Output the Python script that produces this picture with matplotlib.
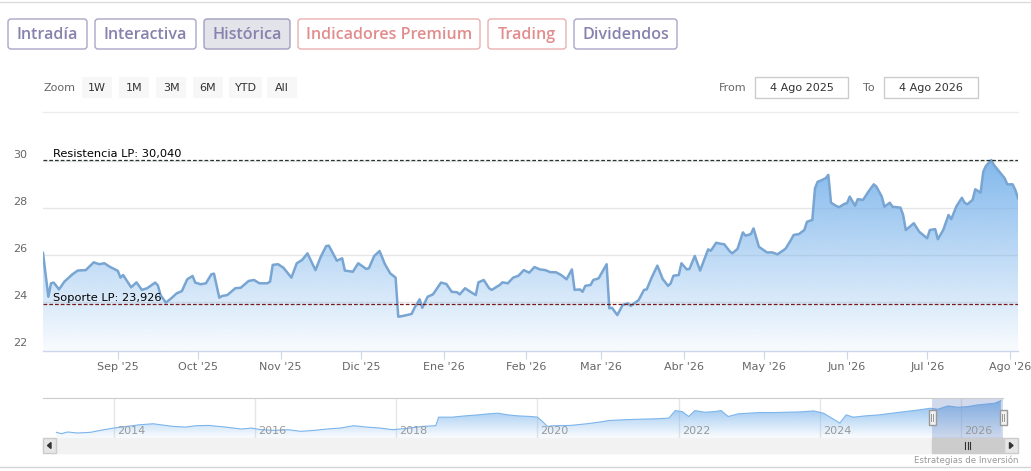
import matplotlib
matplotlib.use('Agg')
import matplotlib.pyplot as plt
import matplotlib.dates as mdates
from matplotlib.patches import FancyBboxPatch, Rectangle, Polygon
import numpy as np
import pandas as pd

# ---------------- data ----------------
dates = [
    '2025-08-04', '2025-08-06', '2025-08-07', '2025-08-08', '2025-08-10', '2025-08-12', '2025-08-15',
    '2025-08-17', '2025-08-20', '2025-08-23', '2025-08-25', '2025-08-27', '2025-08-29', '2025-09-01',
    '2025-09-02', '2025-09-03', '2025-09-06', '2025-09-08', '2025-09-10', '2025-09-12', '2025-09-15',
    '2025-09-16', '2025-09-17', '2025-09-19', '2025-09-21', '2025-09-23', '2025-09-25', '2025-09-27',
    '2025-09-29', '2025-09-30', '2025-10-02', '2025-10-04', '2025-10-06', '2025-10-07', '2025-10-09',
    '2025-10-10', '2025-10-12', '2025-10-15', '2025-10-17', '2025-10-20', '2025-10-22', '2025-10-24',
    '2025-10-27', '2025-10-28', '2025-10-29', '2025-10-31', '2025-11-02', '2025-11-05', '2025-11-07',
    '2025-11-09', '2025-11-11', '2025-11-14', '2025-11-16', '2025-11-18', '2025-11-19', '2025-11-22',
    '2025-11-24', '2025-11-25', '2025-11-28', '2025-11-30', '2025-12-03', '2025-12-04', '2025-12-06',
    '2025-12-08', '2025-12-10', '2025-12-12', '2025-12-14', '2025-12-15', '2025-12-17', '2025-12-20',
    '2025-12-21', '2025-12-23', '2025-12-24', '2025-12-26', '2025-12-28', '2025-12-31', '2026-01-02',
    '2026-01-04', '2026-01-06', '2026-01-07', '2026-01-09', '2026-01-11', '2026-01-13', '2026-01-14',
    '2026-01-16', '2026-01-18', '2026-01-19', '2026-01-22', '2026-01-23', '2026-01-25', '2026-01-27',
    '2026-01-29', '2026-01-31', '2026-02-02', '2026-02-04', '2026-02-06', '2026-02-08', '2026-02-10',
    '2026-02-12', '2026-02-14', '2026-02-16', '2026-02-18', '2026-02-19', '2026-02-21', '2026-02-22',
    '2026-02-23', '2026-02-25', '2026-02-26', '2026-02-28', '2026-03-03', '2026-03-04', '2026-03-05',
    '2026-03-07', '2026-03-09', '2026-03-11', '2026-03-12', '2026-03-15', '2026-03-17', '2026-03-18',
    '2026-03-20', '2026-03-22', '2026-03-24', '2026-03-26', '2026-03-27', '2026-03-28', '2026-03-30',
    '2026-03-31', '2026-04-02', '2026-04-03', '2026-04-05', '2026-04-07', '2026-04-10', '2026-04-11',
    '2026-04-13', '2026-04-15', '2026-04-16', '2026-04-18', '2026-04-19', '2026-04-21', '2026-04-23',
    '2026-04-24', '2026-04-26', '2026-04-27', '2026-04-29', '2026-05-02', '2026-05-04', '2026-05-06',
    '2026-05-07', '2026-05-09', '2026-05-11', '2026-05-12', '2026-05-14', '2026-05-16', '2026-05-17',
    '2026-05-19', '2026-05-20', '2026-05-21', '2026-05-22', '2026-05-24', '2026-05-25', '2026-05-26',
    '2026-05-28', '2026-05-29', '2026-05-31', '2026-06-01', '2026-06-02', '2026-06-04', '2026-06-05',
    '2026-06-07', '2026-06-09', '2026-06-11', '2026-06-12', '2026-06-14', '2026-06-15', '2026-06-17',
    '2026-06-18', '2026-06-21', '2026-06-22', '2026-06-23', '2026-06-26', '2026-06-28', '2026-07-01',
    '2026-07-02', '2026-07-04', '2026-07-05', '2026-07-07', '2026-07-09', '2026-07-10', '2026-07-12',
    '2026-07-14', '2026-07-15', '2026-07-16', '2026-07-18', '2026-07-19', '2026-07-21', '2026-07-22',
    '2026-07-23', '2026-07-25', '2026-07-26', '2026-07-28', '2026-07-30', '2026-07-31', '2026-08-02',
    '2026-08-03', '2026-08-04',
]
prices = [
    26.10, 24.24, 24.81, 24.84, 24.55, 24.88, 25.19,
    25.35, 25.37, 25.70, 25.62, 25.66, 25.51, 25.34,
    25.05, 25.16, 24.64, 24.85, 24.53, 24.60, 24.84,
    24.72, 24.31, 23.99, 24.17, 24.38, 24.48, 24.98,
    25.12, 24.84, 24.77, 24.81, 25.19, 25.22, 24.20,
    24.27, 24.31, 24.60, 24.62, 24.91, 24.95, 24.81,
    24.81, 24.88, 25.59, 25.62, 25.47, 25.05, 25.66,
    25.80, 26.08, 25.37, 25.94, 26.39, 26.41, 25.77,
    25.87, 25.35, 25.30, 25.66, 25.42, 25.45, 25.97,
    26.18, 25.62, 25.23, 25.05, 23.39, 23.43, 23.51,
    23.75, 24.13, 23.77, 24.24, 24.34, 24.84, 24.78,
    24.45, 24.43, 24.34, 24.60, 24.45, 24.31, 24.85,
    24.95, 24.60, 24.53, 24.74, 24.85, 24.81, 25.05,
    25.13, 25.37, 25.26, 25.50, 25.40, 25.37, 25.28,
    25.28, 25.16, 24.98, 25.40, 24.53, 24.55, 24.45,
    24.70, 24.74, 24.95, 25.02, 25.62, 23.75, 23.77,
    23.46, 23.89, 23.96, 23.85, 24.10, 24.53, 24.55,
    25.09, 25.56, 24.99, 24.70, 24.81, 25.13, 25.16,
    25.66, 25.40, 25.42, 25.97, 25.35, 26.25, 26.19,
    26.53, 26.48, 26.47, 26.18, 26.08, 26.27, 26.97,
    26.83, 26.90, 27.14, 26.36, 26.12, 26.12, 26.04,
    26.12, 26.28, 26.65, 26.86, 26.90, 27.07, 27.42,
    27.50, 28.84, 29.12, 29.16, 29.27, 29.41, 28.23,
    28.09, 28.04, 28.18, 28.21, 28.49, 28.10, 28.38,
    28.35, 28.70, 29.01, 28.91, 28.49, 28.06, 28.23,
    28.06, 28.02, 27.71, 27.07, 27.36, 27.00, 26.72,
    27.07, 27.11, 26.68, 27.07, 27.71, 27.53, 28.09,
    28.44, 28.23, 28.16, 28.35, 28.80, 28.66, 29.55,
    29.79, 30.04, 29.83, 29.55, 29.27, 29.01, 29.01,
    28.77, 28.42,
]

resistance = 30.040
support = 23.926
resistance_label = 'Resistencia LP: 30,040'
support_label = 'Soporte LP: 23,926'

y_ticks = [22, 24, 26, 28, 30]
month_ticks = ['2025-09-01', '2025-10-01', '2025-11-01', '2025-12-01', '2026-01-01', '2026-02-01',
               '2026-03-01', '2026-04-01', '2026-05-01', '2026-06-01', '2026-07-01', '2026-08-01']
month_labels = ["Sep '25", "Oct '25", "Nov '25", "Dic '25", "Ene '26", "Feb '26",
                "Mar '26", "Abr '26", "May '26", "Jun '26", "Jul '26", "Ago '26"]
range_start = '2025-08-04'
range_end = '2026-08-04'

tab_labels = ['Intradía', 'Interactiva', 'Histórica', 'Indicadores Premium', 'Trading', 'Dividendos']
zoom_labels = ['1W', '1M', '3M', '6M', 'YTD', 'All']
from_label = '4 Ago 2025'
to_label = '4 Ago 2026'
credit = 'Estrategias de Inversión'

# navigator (full history), decimal years
nav_years = [2013.19, 2013.26, 2013.35, 2013.49, 2013.67, 2013.81, 2014.00, 2014.19, 2014.37, 2014.56,
             2014.70, 2014.84, 2015.02, 2015.16, 2015.35, 2015.58, 2015.81, 2015.95, 2016.09, 2016.28,
             2016.47, 2016.65, 2016.84, 2017.02, 2017.21, 2017.40, 2017.58, 2017.77, 2017.95, 2018.05,
             2018.19, 2018.37, 2018.56, 2018.60, 2018.79, 2018.98, 2019.16, 2019.30, 2019.44, 2019.58,
             2019.72, 2019.91, 2020.00, 2020.07, 2020.14, 2020.23, 2020.47, 2020.70, 2020.84, 2021.02,
             2021.21, 2021.49, 2021.67, 2021.86, 2021.95, 2022.05, 2022.14, 2022.23, 2022.37, 2022.51,
             2022.60, 2022.70, 2022.84, 2022.98, 2023.16, 2023.35, 2023.53, 2023.72, 2023.91, 2024.05,
             2024.19, 2024.28, 2024.37, 2024.47, 2024.65, 2024.84, 2025.02, 2025.21, 2025.40, 2025.56,
             2025.67, 2025.81, 2025.95, 2026.09, 2026.23, 2026.37, 2026.47, 2026.56]
nav_values = [12.36, 11.64, 12.54, 12.00, 12.36, 13.44, 14.70, 15.60, 16.50, 17.04,
              16.32, 15.60, 15.24, 15.96, 16.14, 15.24, 14.16, 14.70, 13.80, 13.44,
              13.80, 12.90, 13.44, 14.16, 14.70, 15.96, 15.24, 14.70, 13.80, 14.16,
              14.70, 15.60, 15.96, 20.64, 20.64, 21.36, 21.90, 22.44, 22.80, 21.90,
              21.36, 21.00, 20.64, 18.30, 15.60, 15.96, 16.14, 17.04, 17.76, 18.84,
              19.20, 19.56, 19.74, 20.10, 24.24, 23.70, 21.00, 24.24, 23.34, 23.70,
              24.24, 21.00, 22.44, 22.80, 23.16, 23.16, 23.34, 23.52, 24.06, 22.80,
              19.56, 17.40, 21.90, 20.64, 21.36, 21.90, 22.80, 23.70, 24.60, 25.50,
              24.96, 26.76, 26.04, 26.40, 27.30, 27.84, 28.20, 29.64]
nav_year_ticks = [2014, 2016, 2018, 2020, 2022, 2024, 2026]
nav_range = (2013.0, 2026.59)
nav_selected = (2025.59, 2026.59)

# ---------------- figure ----------------
W, H = 1031, 471
fig = plt.figure(figsize=(W / 100, H / 100), dpi=100)
fig.patch.set_facecolor('white')

AREA_RGB = (124 / 255, 181 / 255, 236 / 255)
LINE_C = '#78a5d2'
TXT = '#666666'


def px_axes(l, t, r, b):
    return fig.add_axes([l / W, 1 - b / H, (r - l) / W, (b - t) / H])


# overlay axes in pixel coordinates for the page widgets
ui = fig.add_axes([0, 0, 1, 1])
ui.set_xlim(0, W)
ui.set_ylim(H, 0)
ui.axis('off')
ui.set_zorder(0)

ui.plot([0, W], [2, 2], color='#dddddd', lw=1)
ui.plot([0, W], [467, 467], color='#d5d5d5', lw=1)
ui.plot([43, 1018], [112, 112], color='#ececec', lw=1)

tab_boxes = [(8, 87), (95, 196), (204, 290), (298, 480), (488, 566), (574, 677)]
purple, salmon = '#8682ad', '#e28d8d'
tab_text_colors = [purple, purple, purple, salmon, salmon, purple]
tab_edge_colors = ['#a9a6c6', '#a9a6c6', '#a19ec0', '#eab0b0', '#eab0b0', '#a9a6c6']
for i, (lab, (x0, x1)) in enumerate(zip(tab_labels, tab_boxes)):
    face = '#e3e3ea' if lab == 'Histórica' else 'white'
    ui.add_patch(FancyBboxPatch((x0, 19), x1 - x0, 30,
                                boxstyle='round,pad=0,rounding_size=3',
                                facecolor=face, edgecolor=tab_edge_colors[i], lw=1))
    ui.text((x0 + x1) / 2, 35, lab, ha='center', va='center', color=tab_text_colors[i],
            fontsize=11.6, family='Open Sans', weight='semibold')

ui.text(43, 88, 'Zoom', ha='left', va='center', color=TXT, fontsize=8, family='DejaVu Sans')
zoom_boxes = [(82, 112), (119, 149), (156, 186), (193, 223), (229, 262), (267, 297)]
for lab, (x0, x1) in zip(zoom_labels, zoom_boxes):
    ui.add_patch(Rectangle((x0, 77), x1 - x0, 21, facecolor='#f7f7f7', edgecolor='none'))
    ui.text((x0 + x1) / 2, 88, lab, ha='center', va='center', color='#333333', fontsize=8,
            family='DejaVu Sans')

ui.text(746, 88, 'From', ha='right', va='center', color=TXT, fontsize=8, family='DejaVu Sans')
ui.text(875, 88, 'To', ha='right', va='center', color=TXT, fontsize=8, family='DejaVu Sans')
for lab, (x0, x1) in [(from_label, (755, 848)), (to_label, (884, 978))]:
    ui.add_patch(Rectangle((x0, 77), x1 - x0, 21, facecolor='white', edgecolor='#cccccc', lw=1))
    ui.text((x0 + x1) / 2, 88, lab, ha='center', va='center', color='#333333', fontsize=8,
            family='DejaVu Sans')

# scrollbar
ui.add_patch(Rectangle((43, 438), 975, 15, facecolor='#f2f2f2', edgecolor='#f2f2f2', lw=1))
ui.add_patch(Rectangle((43, 438), 13, 15, facecolor='#e6e6e6', edgecolor='#cccccc', lw=1))
ui.add_patch(Rectangle((1004, 438), 14, 15, facecolor='#e6e6e6', edgecolor='#cccccc', lw=1))
ui.add_patch(Polygon([[51, 442.5], [51, 448.5], [47.5, 445.5]], closed=True, color='#333333'))
ui.add_patch(Polygon([[1009.5, 442.5], [1009.5, 448.5], [1013, 445.5]], closed=True, color='#333333'))
ui.add_patch(Rectangle((932, 438), 71, 15, facecolor='#cccccc', edgecolor='#cccccc', lw=1))
for gx in (965, 967.5, 970):
    ui.plot([gx, gx], [442, 449], color='#333333', lw=0.8)

ui.text(1018, 460, credit, ha='right', va='center', color='#999999', fontsize=6.2,
        family='DejaVu Sans')


def gradient_area(ax, x, y, ybot, ytop, a_top, a_bot, z):
    poly = ax.fill_between(x, y, ybot, facecolor='none', edgecolor='none')
    grad = np.zeros((256, 1, 4))
    grad[:, :, 0], grad[:, :, 1], grad[:, :, 2] = AREA_RGB
    grad[:, 0, 3] = np.linspace(a_bot, a_top, 256)
    xn = np.asarray(x, dtype=float)
    im = ax.imshow(grad, aspect='auto', origin='lower', interpolation='bilinear',
                   extent=[xn.min(), xn.max(), ybot, ytop], zorder=z)
    im.set_clip_path(poly.get_paths()[0], transform=ax.transData)


# ---------------- main chart ----------------
ax = px_axes(43, 140, 1018, 351)
ax.set_zorder(2)
ax.patch.set_alpha(0)
dt = pd.to_datetime(dates)
xnum = mdates.date2num(dt)
ybot, ytop = 21.936, 30.892

for t in y_ticks[1:]:
    ax.axhline(t, color='#e6e6e6', lw=1, zorder=0)

gradient_area(ax, xnum, prices, ybot, resistance, 0.95, 0.05, 1)
ax.plot(xnum, prices, color=LINE_C, lw=1.8, zorder=3, solid_joinstyle='round')

ax.axhline(resistance, color='#27362c', lw=0.9, ls=(0, (3, 1.6)), zorder=4)
ax.axhline(support, color='#7a1a1a', lw=0.9, ls=(0, (3, 1.6)), zorder=4)
for val, lab in [(resistance, resistance_label), (support, support_label)]:
    ax.annotate(lab, xy=(0, val), xycoords=('axes fraction', 'data'),
                xytext=(7.2, 0.8), textcoords='offset points', ha='left', va='bottom',
                color='black', fontsize=8.2, family='DejaVu Sans', zorder=5)

ax.set_xlim(mdates.date2num(pd.Timestamp(range_start)), mdates.date2num(pd.Timestamp(range_end)))
ax.set_ylim(ybot, ytop)
ax.set_yticks(y_ticks)
ax.set_yticklabels([])
ax.tick_params(axis='y', length=0)
for t in y_ticks:
    ax.annotate(str(t), xy=(0, t), xycoords=('axes fraction', 'data'), xytext=(-11.5, 4.6),
                textcoords='offset points', ha='right', va='center', color=TXT, fontsize=8,
                family='DejaVu Sans')
ax.set_xticks(mdates.date2num(pd.to_datetime(month_ticks)))
ax.set_xticklabels(month_labels, color=TXT, fontsize=8, family='DejaVu Sans')
ax.tick_params(axis='x', length=5.8, width=0.8, color='#ccd6eb', pad=2)
for s in ('top', 'left', 'right'):
    ax.spines[s].set_visible(False)
ax.spines['bottom'].set_color('#ccd6eb')
ax.spines['bottom'].set_linewidth(1)

# ---------------- navigator ----------------
nav = px_axes(43, 398, 1003, 438)
nav.set_zorder(2)
nav.patch.set_alpha(0)
nyb, nyt = 9.27, 31.1
for yr in nav_year_ticks:
    nav.axvline(yr, color='#e6e6e6', lw=1, zorder=0)
    nav.annotate(str(yr), xy=(yr, 0), xycoords=('data', 'axes fraction'), xytext=(2.2, 5),
                 textcoords='offset points', ha='left', va='center', color='#999999',
                 fontsize=8, family='DejaVu Sans', zorder=3)
gradient_area(nav, nav_years, nav_values, nyb, max(nav_values), 0.9, 0.03, 1)
nav.plot(nav_years, nav_values, color='#7cb5ec', lw=0.8, zorder=2)
nav.axvspan(nav_selected[0], nav_selected[1], color=(102 / 255, 133 / 255, 194 / 255, 0.3),
            lw=0, zorder=2.5)
nav.set_xlim(*nav_range)
nav.set_ylim(nyb, nyt)
nav.set_xticks([])
nav.set_yticks([])
for s in ('bottom', 'left', 'right'):
    nav.spines[s].set_visible(False)
nav.spines['top'].set_color('#cccccc')

# handles
hd = fig.add_axes([0, 0, 1, 1])
hd.set_xlim(0, W)
hd.set_ylim(H, 0)
hd.axis('off')
hd.set_zorder(3)
for hx in (932, 1003):
    hd.add_patch(Rectangle((hx - 3.5, 410), 7, 15, facecolor='#f2f2f2', edgecolor='#999999', lw=1))
    for dx in (-1, 1):
        hd.plot([hx + dx, hx + dx], [414, 421], color='#999999', lw=0.7)

fig.savefig('out.png', dpi=100, facecolor='white')
